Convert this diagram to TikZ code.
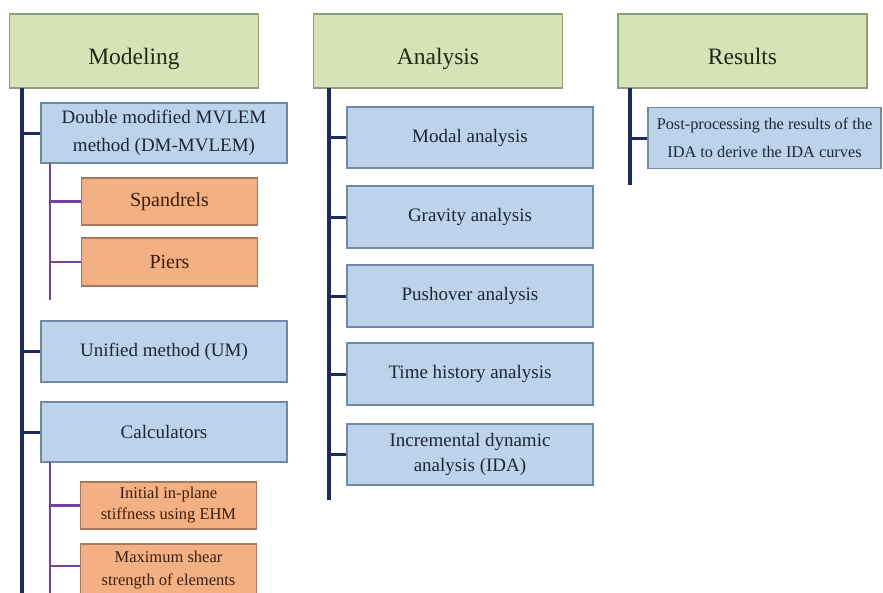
\documentclass[tikz,border=0pt]{standalone}
\usepackage{fontspec}
\setmainfont{Liberation Serif}
\definecolor{grfill}{HTML}{D5E3B7}
\definecolor{grdraw}{HTML}{8E9E7C}
\definecolor{blfill}{HTML}{BCD3EA}
\definecolor{bldraw}{HTML}{6F89AC}
\definecolor{orfill}{HTML}{F3B083}
\definecolor{ordraw}{HTML}{A9795A}
\definecolor{navy}{HTML}{1C2B5C}
\definecolor{purp}{HTML}{7A3E9D}
\definecolor{grtext}{HTML}{1E2A16}
\definecolor{bltext}{HTML}{1E2636}
\definecolor{ortext}{HTML}{3C1E0E}
\tikzset{
  hdr/.style={draw=grdraw, fill=grfill, line width=1.2pt, inner sep=0pt, text=grtext,
    font=\fontsize{23.5}{26}\selectfont, minimum width=249pt, minimum height=74pt,
    text height=26pt, text depth=0pt},
  bbox/.style={draw=bldraw, fill=blfill, line width=1.2pt, inner sep=0pt, text=bltext,
    align=center, font=\fontsize{19}{28}\selectfont, minimum width=246pt, minimum height=61pt},
  obox/.style={draw=ordraw, fill=orfill, line width=1.2pt, inner sep=0pt, text=ortext,
    align=center, font=\fontsize{16.5}{21}\selectfont, minimum width=176pt, minimum height=47pt},
  trunk/.style={draw=navy, line width=3.4pt},
  twig/.style={draw=purp, line width=2.8pt},
  tw/.style={draw=navy, line width=3pt}
}
\begin{document}
\begin{tikzpicture}[x=1pt,y=-1pt]
\useasboundingbox (0,0) rectangle (883,592);
% headers
\node[hdr] (mod) at (134,51) {Modeling};
\node[hdr] (ana) at (438,51) {Analysis};
\node[hdr] (res) at (742.5,51) {Results};
% trunk coordinates
\coordinate (mtop) at (22,88);
\coordinate (mbot) at (22,600);
\coordinate (atop) at (329,88);
\coordinate (abot) at (329,500);
\coordinate (rtop) at (630,88);
\coordinate (rbot) at (630,185);
% modeling
\node[bbox, minimum height=60pt] (dm) at (164,133) {Double modified MVLEM\\method (DM-MVLEM)};
\node[obox, font=\fontsize{20}{24}\selectfont] (spa) at (169.5,201.5) {Spandrels};
\node[obox, minimum height=48pt, font=\fontsize{20}{24}\selectfont] (pie) at (169.5,262) {Piers};
\node[bbox] (um) at (164,351.5) {Unified method (UM)};
\node[bbox, minimum height=60pt] (calc) at (164,432) {Calculators};
\node[obox] (ini) at (168.5,505.5) {Initial in-plane\\stiffness using EHM};
\node[obox, minimum height=52pt, font=\fontsize{16.5}{23}\selectfont] (max) at (168.5,570) {Maximum shear\\strength of elements};
\coordinate (p1top) at (50,163);
\coordinate (p1bot) at (50,300);
\coordinate (p2top) at (50,462);
\coordinate (p2bot) at (50,600);
% analysis
\node[bbox] (modal) at (470,137.5) {Modal analysis};
\node[bbox, minimum height=62pt] (grav) at (470,217) {Gravity analysis};
\node[bbox, minimum height=62pt] (push) at (470,296) {Pushover analysis};
\node[bbox, minimum height=62pt] (time) at (470,374) {Time history analysis};
\node[bbox, font=\fontsize{19}{25}\selectfont] (ida) at (470,454.5) {Incremental dynamic\\analysis (IDA)};
% results
\node[bbox, minimum width=233pt, font=\fontsize{16.3}{28}\selectfont] (post) at (764.5,138) {Post-processing the results of the\\IDA to derive the IDA curves};
% trunks
\draw[trunk] (mtop) -- (mbot);
\draw[trunk] (atop) -- (abot);
\draw[trunk] (rtop) -- (rbot);
\draw[twig] (p1top) -- (p1bot);
\draw[twig] (p2top) -- (p2bot);
% connectors
\foreach \n in {dm,um,calc}{\draw[tw] (mtop |- \n.west) -- (\n.west);}
\foreach \n in {spa,pie,ini}{\draw[twig] (p1top |- \n.west) -- (\n.west);}
\draw[twig] (p1top |- 0,566) coordinate (mx) -- (mx -| max.west);
\foreach \n in {modal,grav,push,time,ida}{\draw[tw] (atop |- \n.west) -- (\n.west);}
\draw[tw] (rtop |- post.west) -- (post.west);
\end{tikzpicture}
\end{document}
